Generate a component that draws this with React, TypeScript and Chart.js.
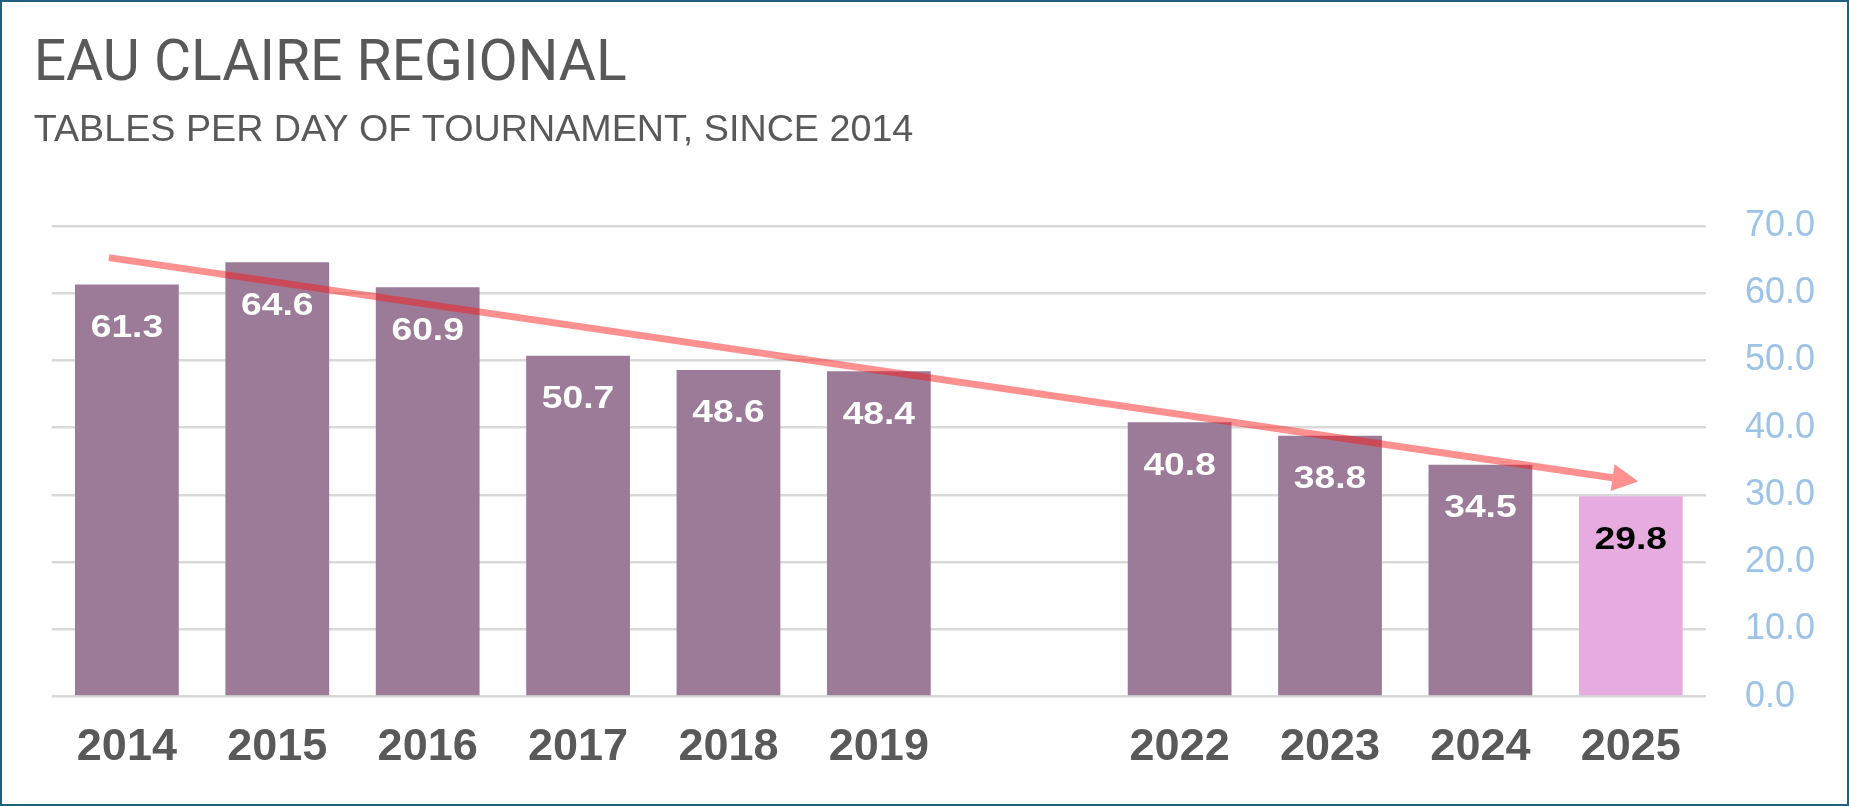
import React, { useEffect, useRef } from 'react';
import { Chart, registerables } from 'chart.js';

Chart.register(...registerables);

// years on the category axis (the empty slot is the 2020/2021 gap)
const years = ['2014', '2015', '2016', '2017', '2018', '2019', '', '2022', '2023', '2024', '2025'];
// tables per day of tournament
const tables = [61.3, 64.6, 60.9, 50.7, 48.6, 48.4, null, 40.8, 38.8, 34.5, 29.8];
// trend arrow, start and tip (x in category index units)
const trendX = [-0.12, 10.05];
const trendY = [65.3, 32.0];

const barColor = '#9b7b98';
const lastBarColor = '#e6ace0';
const arrowColor = 'rgba(255, 20, 20, 0.47)';

const overlayPlugin = {
  id: 'overlay',
  afterDraw(chart: any) {
    const ctx = chart.ctx;

    // trend arrow from the two points of the line dataset
    const pts = chart.getDatasetMeta(1).data;
    if (pts.length === 2) {
      const a = pts[0];
      const b = pts[1];
      const dx = b.x - a.x;
      const dy = b.y - a.y;
      const len = Math.hypot(dx, dy);
      const ux = dx / len;
      const uy = dy / len;
      const head = 26;
      const half = 13.5;
      const bx = b.x - ux * head;
      const by = b.y - uy * head;
      ctx.save();
      ctx.strokeStyle = arrowColor;
      ctx.lineWidth = 7;
      ctx.lineCap = 'butt';
      ctx.beginPath();
      ctx.moveTo(a.x, a.y);
      ctx.lineTo(bx, by);
      ctx.stroke();
      ctx.fillStyle = arrowColor;
      ctx.beginPath();
      ctx.moveTo(b.x, b.y);
      ctx.lineTo(bx - uy * half, by + ux * half);
      ctx.lineTo(bx + uy * half, by - ux * half);
      ctx.closePath();
      ctx.fill();
      ctx.restore();
    }

    // value labels inside the top of each bar (wide bold digits)
    const bars = chart.getDatasetMeta(0).data;
    bars.forEach((bar: any, i: number) => {
      const v = tables[i];
      if (v == null) return;
      ctx.save();
      ctx.font = 'bold 31px "Liberation Sans", Arial, sans-serif';
      ctx.textAlign = 'center';
      ctx.textBaseline = 'alphabetic';
      ctx.fillStyle = i === tables.length - 1 ? '#000000' : '#ffffff';
      ctx.translate(bar.x, bar.y + 52.5);
      ctx.scale(1.2, 1);
      ctx.fillText(v.toFixed(1), 0, 0);
      ctx.restore();
    });
  },
};

const TablesChart: React.FC = () => {
  const canvasRef = useRef<HTMLCanvasElement>(null);
  const chartRef = useRef<Chart>();

  useEffect(() => {
    if (!canvasRef.current) return;
    Chart.defaults.font.family = '"Liberation Sans", Arial, sans-serif';

    chartRef.current = new Chart(canvasRef.current, {
      type: 'bar',
      data: {
        labels: years,
        datasets: [
          {
            label: 'Tables per day',
            data: tables,
            backgroundColor: tables.map((_, i) => (i === tables.length - 1 ? lastBarColor : barColor)),
            borderWidth: 0,
            barPercentage: 0.69,
            categoryPercentage: 1,
            grouped: false,
            xAxisID: 'x',
            yAxisID: 'y',
          },
          {
            type: 'line',
            label: 'Trend',
            data: trendX.map((x, i) => ({ x, y: trendY[i] })),
            xAxisID: 'x2',
            yAxisID: 'y',
            showLine: false,
            pointRadius: 0,
            borderWidth: 0,
          } as any,
        ],
      },
      options: {
        animation: false,
        responsive: true,
        maintainAspectRatio: false,
        events: [],
        layout: { padding: { left: 31.7, right: 0, top: 30, bottom: 12.6 } },
        plugins: {
          legend: { display: false },
          tooltip: { enabled: false },
          title: {
            display: true,
            text: 'EAU CLAIRE REGIONAL',
            align: 'start',
            color: '#595959',
            font: { family: 'Roboto, "Liberation Sans", sans-serif', size: 57, weight: 'normal', lineHeight: 1.2 },
            padding: { top: 0, bottom: 7.7 },
          },
          subtitle: {
            display: true,
            text: 'TABLES PER DAY OF TOURNAMENT, SINCE 2014',
            align: 'start',
            color: '#595959',
            font: { size: 37.7, weight: 'normal', lineHeight: 1.2 },
            padding: { top: 0, bottom: 72.7 },
          },
        },
        scales: {
          x: {
            type: 'category',
            grid: { display: false },
            border: { display: false },
            ticks: {
              color: '#595959',
              font: { size: 45, weight: 'bold', lineHeight: 1.2 },
              padding: 16.4,
              maxRotation: 0,
              autoSkip: false,
            },
          },
          x2: {
            type: 'linear',
            display: false,
            offset: false,
            min: -0.5,
            max: 10.5,
          },
          y: {
            position: 'right',
            min: 0,
            max: 70,
            z: 1,
            grid: { color: 'rgba(0, 0, 0, 0.15)', lineWidth: 2.5, drawTicks: false },
            border: { display: false },
            ticks: {
              stepSize: 10,
              color: '#9dc3e6',
              font: { size: 36, lineHeight: 1.2 },
              padding: 39,
              callback: (v: any) => Number(v).toFixed(1),
            },
            afterFit: (scale: any) => {
              scale.width = 141;
            },
          },
          yl: {
            position: 'left',
            grid: { display: false },
            border: { display: false },
            ticks: { display: false },
            afterFit: (scale: any) => {
              scale.width = 18;
            },
          },
        },
      },
      plugins: [overlayPlugin],
    });

    return () => {
      if (chartRef.current) {
        chartRef.current.destroy();
      }
    };
  }, []);

  return (
    <div
      style={{
        position: 'fixed',
        top: 0,
        left: 0,
        width: 1849,
        height: 806,
        boxSizing: 'border-box',
        border: '2px solid #1f5f7f',
        background: '#ffffff',
      }}
    >
      <div style={{ position: 'relative', width: 1845, height: 802 }}>
        <canvas ref={canvasRef} />
      </div>
    </div>
  );
};

export default function App() {
  return <TablesChart />;
}
